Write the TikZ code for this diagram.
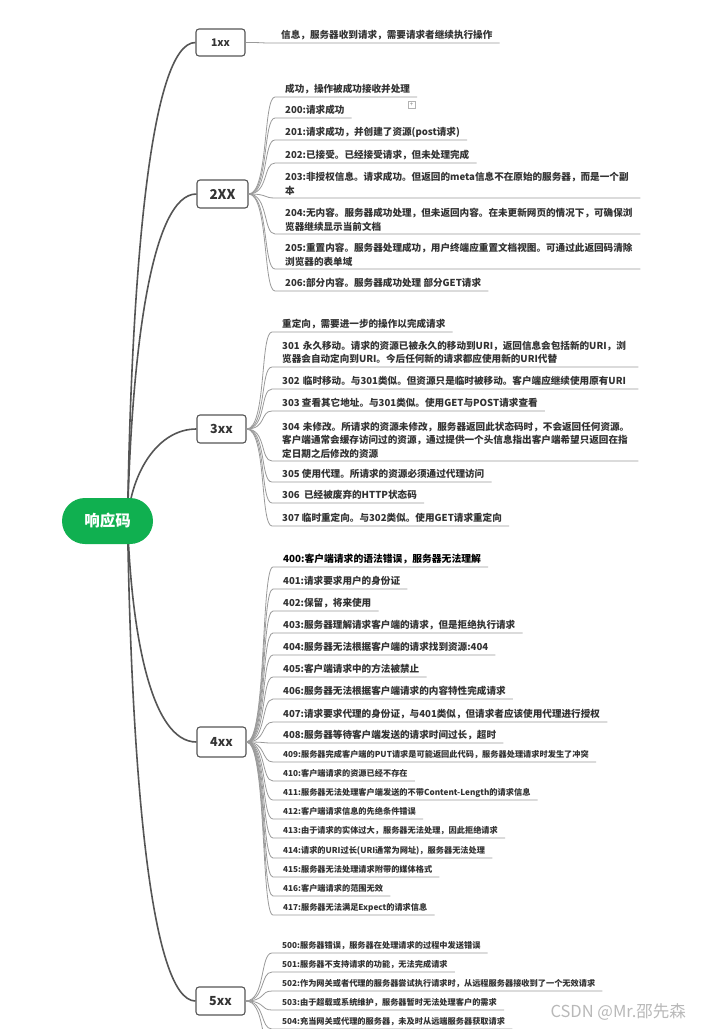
\documentclass[tikz,border=0pt]{standalone}
\usepackage{fontspec}
\setmainfont{Noto Sans CJK SC}
\usetikzlibrary{backgrounds}
\definecolor{rootgreen}{HTML}{10B050}
\definecolor{txtgray}{HTML}{333333}
\definecolor{linegray}{HTML}{9A9A9A}
\definecolor{branchgray}{HTML}{555555}

\begin{document}
\begin{tikzpicture}[x=1pt, y=-1pt,
  rootnode/.style={fill=rootgreen, rounded corners=23pt, minimum width=91pt,
    minimum height=46pt, text=white, font=\fontsize{15.5}{15.5}\selectfont\bfseries},
  codebox/.style={draw=branchgray, line width=1.1pt, fill=white, rounded corners=3pt,
    minimum width=49pt, minimum height=28pt, inner sep=0pt, text=txtgray,
    font=\fontsize{12.5}{12.5}\selectfont\bfseries},
  leaf/.style={anchor=south west, inner sep=0pt, text depth=4pt, text=txtgray,
    font=\fontsize{9.6}{13.2}\selectfont\bfseries},
  smallleaf/.style={leaf, font=\fontsize{8.2}{10}\selectfont\bfseries},
  wideleaf/.style={leaf, text width=#1, align=left, text depth=, inner ysep=2.8pt},
  rootline/.style={draw=branchgray, line width=1.6pt},
  leafline/.style={draw=linegray, line width=0.8pt},
  foldbox/.style={draw=gray!60, minimum size=7pt, inner sep=0pt, text=gray,
    font=\fontsize{6}{6}\selectfont},
  watermark/.style={anchor=west, text=gray!55, font=\fontsize{16.5}{16.5}\selectfont}
]
  \useasboundingbox (0,0) rectangle (713,1029);

  \node[rootnode] (root) at (107.5,521) {响应码};

  % status classes
  \node[codebox, minimum height=27pt, font=\fontsize{10.5}{10.5}\selectfont\bfseries] (b1) at (220.5,42.5) {1xx};
  \node[codebox, minimum width=51pt, font=\fontsize{13.5}{13.5}\selectfont\bfseries] (b2) at (222.5,194) {2XX};
  \node[codebox] (b3) at (221.5,429) {3xx};
  \node[codebox, minimum height=30pt] (b4) at (221.5,742) {4xx};
  \node[codebox] (b5) at (220.5,1001) {5xx};

  % 1xx
  \node[leaf] (l1) at (281,43) {信息，服务器收到请求，需要请求者继续执行操作};

  % 2xx
  \node[leaf] (l2a) at (285,97) {成功，操作被成功接收并处理};
  \node[leaf] (l200) at (285,118) {200:请求成功};
  \node[leaf] (l201) at (285,140) {201:请求成功，并创建了资源(post请求)};
  \node[leaf] (l202) at (285,163) {202:已接受。已经接受请求，但未处理完成};
  \node[wideleaf=348pt] (l203) at (285,198) {203:非授权信息。请求成功。但返回的meta信息不在原始的服务器，而是一个副\\本};
  \node[wideleaf=348pt] (l204) at (285,234) {204:无内容。服务器成功处理，但未返回内容。在未更新网页的情况下，可确保浏\\览器继续显示当前文档};
  \node[wideleaf=348pt] (l205) at (285,269) {205:重置内容。服务器处理成功，用户终端应重置文档视图。可通过此返回码清除\\浏览器的表单域};
  \node[leaf] (l206) at (285,291) {206:部分内容。服务器成功处理 部分GET请求};
  \node[foldbox] (fold) at (411.5,105) {+};

  % 3xx
  \node[leaf] (l3a) at (282,332) {重定向，需要进一步的操作以完成请求};
  \node[wideleaf=349pt] (l301) at (282,367) {301~永久移动。请求的资源已被永久的移动到URI，返回信息会包括新的URI，浏\\览器会自动定向到URI。今后任何新的请求都应使用新的URI代替};
  \node[wideleaf=349pt] (l302) at (282,389) {302~临时移动。与301类似。但资源只是临时被移动。客户端应继续使用原有URI};
  \node[leaf] (l303) at (282,411) {303 查看其它地址。与301类似。使用GET与POST请求查看};
  \node[wideleaf=349pt] (l304) at (282,461) {304~未修改。所请求的资源未修改，服务器返回此状态码时，不会返回任何资源。\\客户端通常会缓存访问过的资源，通过提供一个头信息指出客户端希望只返回在指\\定日期之后修改的资源};
  \node[leaf] (l305) at (282,482) {305 使用代理。所请求的资源必须通过代理访问};
  \node[leaf] (l306) at (282,503) {306\ \ 已经被废弃的HTTP状态码};
  \node[leaf] (l307) at (282,526) {307 临时重定向。与302类似。使用GET请求重定向};

  % 4xx
  \node[leaf, text=black, font=\fontsize{9.8}{13}\selectfont\bfseries] (l400) at (283,567) {400:客户端请求的语法错误，服务器无法理解};
  \node[leaf] (l401) at (283,589) {401:请求要求用户的身份证};
  \node[leaf] (l402) at (283,611) {402:保留，将来使用};
  \node[leaf] (l403) at (283,633) {403:服务器理解请求客户端的请求，但是拒绝执行请求};
  \node[leaf] (l404) at (283,655) {404:服务器无法根据客户端的请求找到资源:404};
  \node[leaf] (l405) at (283,677) {405:客户端请求中的方法被禁止};
  \node[leaf] (l406) at (283,699) {406:服务器无法根据客户端请求的内容特性完成请求};
  \node[leaf] (l407) at (283,722) {407:请求要求代理的身份证，与401类似，但请求者应该使用代理进行授权};
  \node[leaf] (l408) at (283,743) {408:服务器等待客户端发送的请求时间过长，超时};
  \node[smallleaf] (l409) at (283,762) {409:服务器完成客户端的PUT请求是可能返回此代码，服务器处理请求时发生了冲突};
  \node[smallleaf] (l410) at (283,781) {410:客户端请求的资源已经不存在};
  \node[smallleaf] (l411) at (283,800) {411:服务器无法处理客户端发送的不带Content-Length的请求信息};
  \node[smallleaf] (l412) at (283,819) {412:客户端请求信息的先绝条件错误};
  \node[smallleaf] (l413) at (283,838) {413:由于请求的实体过大，服务器无法处理，因此拒绝请求};
  \node[smallleaf] (l414) at (283,858) {414:请求的URI过长(URI通常为网址)，服务器无法处理};
  \node[smallleaf] (l415) at (283,877) {415:服务器无法处理请求附带的媒体格式};
  \node[smallleaf] (l416) at (283,896) {416:客户端请求的范围无效};
  \node[smallleaf] (l417) at (283,915) {417:服务器无法满足Expect的请求信息};

  % 5xx
  \node[smallleaf] (l500) at (282,953) {500:服务器错误，服务器在处理请求的过程中发送错误};
  \node[smallleaf] (l501) at (282,972) {501:服务器不支持请求的功能，无法完成请求};
  \node[smallleaf] (l502) at (282,991) {502:作为网关或者代理的服务器尝试执行请求时，从远程服务器接收到了一个无效请求};
  \node[smallleaf] (l503) at (282,1010) {503:由于超载或系统维护，服务器暂时无法处理客户的需求};
  \node[smallleaf] (l504) at (282,1029) {504:充当网关或代理的服务器，未及时从远端服务器获取请求};
  \coordinate (more) at (272,1050);

  \node[watermark] (wm) at (547,1012) {CSDN @Mr.邵先森};

  % root to classes
  \begin{scope}[on background layer]
    \fill[white] (0,0) rectangle (713,1029);
    \coordinate (hub) at ([xshift=20pt]root.center);
    \draw[rootline] (hub) .. controls +(4,-250) and +(-45,0) .. (b1.west);
    \draw[rootline] (hub) .. controls +(4,-170) and +(-45,0) .. (b2.west);
    \draw[rootline] (hub) .. controls +(4,-50) and +(-38,0) .. (b3.west);
    \draw[rootline] (hub) .. controls +(4,115) and +(-45,0) .. (b4.west);
    \draw[rootline] (hub) .. controls +(4,250) and +(-45,0) .. (b5.west);
  \end{scope}

  % classes to codes
  \draw[leafline] (b1.east) .. controls +(20,0) and +(-12,0) .. ([xshift=-10pt]l1.south west) -- ([xshift=7pt]l1.south east);
  \foreach \n in {l2a,l200,l201,l202,l203,l204,l205,l206}
    \draw[leafline] (b2.east) .. controls +(20,0) and +(-12,0) .. ([xshift=-10pt]\n.south west) -- ([xshift=7pt]\n.south east);
  \foreach \n in {l3a,l301,l302,l303,l304,l305,l306,l307}
    \draw[leafline] (b3.east) .. controls +(20,0) and +(-12,0) .. ([xshift=-10pt]\n.south west) -- ([xshift=7pt]\n.south east);
  \foreach \n in {l400,l401,l402,l403,l404,l405,l406,l407,l408,l409,l410,l411,l412,l413,l414,l415,l416,l417}
    \draw[leafline] (b4.east) .. controls +(20,0) and +(-12,0) .. ([xshift=-10pt]\n.south west) -- ([xshift=7pt]\n.south east);
  \foreach \n in {l500,l501,l502,l503,l504}
    \draw[leafline] (b5.east) .. controls +(20,0) and +(-12,0) .. ([xshift=-10pt]\n.south west) -- ([xshift=7pt]\n.south east);
  \draw[leafline] (b5.east) .. controls +(20,0) and +(-12,0) .. (more);
\end{tikzpicture}
\end{document}
